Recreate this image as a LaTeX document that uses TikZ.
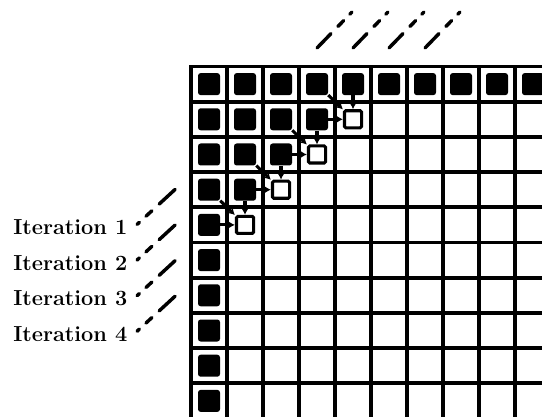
\documentclass[tikz,border=0pt]{standalone}
\usepackage{tikz}
\usetikzlibrary{arrows.meta}

\begin{document}
\begin{tikzpicture}[x=0.75pt,y=-0.75pt,
    plein/.style={fill=black,rounded corners=2pt,minimum size=16.5pt,inner sep=0pt},
    vide/.style={draw=black,fill=white,line width=2.3pt,rounded corners=1pt,
                 minimum size=12.8pt,inner sep=0pt},
    dep/.style={line width=2.3pt,-{Latex[length=4.5pt,width=5pt]}},
    tirets/.style={line width=2.6pt,line cap=round,
                   dash pattern=on 2.3pt off 6.8pt on 6pt off 7.5pt on 30pt}]
  \useasboundingbox (0,0) rectangle (542,417);

  % Grille de la matrice (coupée à droite et en bas)
  \foreach \i in {0,...,10} {
    \draw[line width=2.8pt,line cap=rect] ({191+36*\i},66.5) -- ({191+36*\i},418.5);
    \draw[line width=2.8pt,line cap=rect] (191,{66.5+35.2*\i}) -- (551,{66.5+35.2*\i});
  }

  % Cases déjà calculées : première ligne, première colonne, triangle
  \foreach \c in {1,...,10}
    \node[plein] (b-1-\c) at ({191+36*(\c-0.5)},{66.5+35.2*0.5}) {};
  \foreach \r in {2,...,10}
    \node[plein] (b-\r-1) at ({191+36*0.5},{66.5+35.2*(\r-0.5)}) {};
  \foreach \r/\c in {2/2,2/3,2/4,3/2,3/3,4/2}
    \node[plein] (b-\r-\c) at ({191+36*(\c-0.5)},{66.5+35.2*(\r-0.5)}) {};

  % Front d'onde : cases en cours de calcul et leurs dépendances
  \foreach \r/\c in {2/5,3/4,4/3,5/2} {
    \node[vide] (w-\r-\c) at ({191+36*(\c-0.5)},{66.5+35.2*(\r-0.5)}) {};
    \pgfmathtruncatemacro\ru{\r-1}
    \pgfmathtruncatemacro\cl{\c-1}
    \draw[dep] (b-\ru-\c) -- (w-\r-\c);
    \draw[dep] (b-\r-\cl) -- (w-\r-\c);
    \draw[dep] (b-\ru-\cl) -- (w-\r-\c);
  }

  % Étiquettes des itérations et diagonales en tirets
  \foreach \k in {1,...,4} {
    \node[anchor=base west,inner sep=0pt,
          font=\fontsize{16.3}{19}\selectfont\bfseries]
      (iter-\k) at (13,{234.5+35.6*(\k-1)}) {Iteration \k};
    \draw[tirets] ([xshift=7pt,yshift=2pt]iter-\k.east) -- ++(38,-35);
  }
  \foreach \i in {0,...,3}
    \draw[tirets] ({352+36*\i},12) -- ++(-35,36);
\end{tikzpicture}
\end{document}
